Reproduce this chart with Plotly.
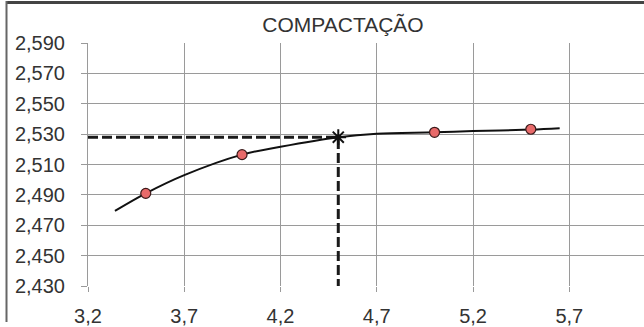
import plotly.graph_objects as go

# Measured points
pts_x = [3.5, 4.0, 5.0, 5.5]
pts_y = [2.491, 2.5165, 2.5312, 2.5332]

# Fitted curve
curve_x = [3.34, 3.5, 3.7, 4.0, 4.2, 4.5, 4.7, 5.0, 5.2, 5.5, 5.65]
curve_y = [2.4794, 2.491, 2.503, 2.5165, 2.5217, 2.528, 2.5303, 2.5312, 2.532, 2.533, 2.5339]

# Optimum point
opt_x = 4.5
opt_y = 2.528

x_ticks = [3.2, 3.7, 4.2, 4.7, 5.2, 5.7]
x_labels = ["3,2", "3,7", "4,2", "4,7", "5,2", "5,7"]
y_ticks = [2.43, 2.45, 2.47, 2.49, 2.51, 2.53, 2.55, 2.57, 2.59]
y_labels = ["2,430", "2,450", "2,470", "2,490", "2,510", "2,530", "2,550", "2,570", "2,590"]

W, H = 644, 327
L, R, T, B = 88, 0, 43, 35
X0, X1 = 3.2, 6.088
Y0, Y1 = 2.43, 2.59

fig = go.Figure()

# dashed guide lines
fig.add_trace(go.Scatter(x=[X0, opt_x, opt_x], y=[opt_y, opt_y, Y0], mode="lines",
                         line=dict(color="#1a1a1a", width=3, dash="10px,4px"),
                         hoverinfo="skip", showlegend=False, cliponaxis=False))
# curve
fig.add_trace(go.Scatter(x=curve_x, y=curve_y, mode="lines",
                         line=dict(color="#111111", width=2, shape="spline", smoothing=1.0),
                         showlegend=False))
# points
fig.add_trace(go.Scatter(x=pts_x, y=pts_y, mode="markers",
                         marker=dict(color="#e86a6a", size=10, line=dict(color="#3a1a1a", width=1.2)),
                         showlegend=False))
# optimum star
fig.add_trace(go.Scatter(x=[opt_x], y=[opt_y], mode="markers",
                         marker=dict(symbol="asterisk-open", color="#111111", size=13,
                                     line=dict(color="#111111", width=2)),
                         showlegend=False))

pw = W - L - R
ph = H - T - B

def px_x(p):
    return (p - L) / pw

def px_y(p):
    return (H - B - p) / ph

# outer frame (scanned chart border)
fig.add_shape(type="line", xref="paper", yref="paper",
              x0=px_x(6), x1=px_x(W + 2), y0=px_y(1.5), y1=px_y(1.5),
              line=dict(color="#444444", width=3))
fig.add_shape(type="line", xref="paper", yref="paper",
              x0=px_x(6.5), x1=px_x(6.5), y0=px_y(0), y1=px_y(H + 2),
              line=dict(color="#666666", width=2))

fig.update_layout(
    width=W, height=H,
    margin=dict(l=L, r=R, t=T, b=B, pad=0),
    paper_bgcolor="white", plot_bgcolor="white",
    font=dict(family="Liberation Sans, Arial, sans-serif", color="#333333", size=20),
    title=dict(text="COMPACTAÇÃO", x=343 / W, xref="container", xanchor="center",
               y=1 - 25 / H, yref="container", yanchor="middle",
               font=dict(size=21, color="#333333")),
    xaxis=dict(range=[X0, X1], tickvals=x_ticks, ticktext=x_labels,
               showgrid=True, gridcolor="#9a9a9a", gridwidth=1,
               ticks="outside", ticklen=5, tickcolor="#9a9a9a",
               showline=False, zeroline=False, ticklabelstandoff=7),
    yaxis=dict(range=[Y0, Y1], tickvals=y_ticks, ticktext=y_labels,
               showgrid=True, gridcolor="#9a9a9a", gridwidth=1,
               ticks="outside", ticklen=6, tickcolor="#9a9a9a",
               showline=True, linecolor="#9a9a9a", linewidth=1,
               zeroline=False, ticklabelstandoff=12),
)

fig.write_html("out.html",
               config={"displayModeBar": False},
               post_script="document.body.style.margin='0';document.body.style.overflow='hidden';")
